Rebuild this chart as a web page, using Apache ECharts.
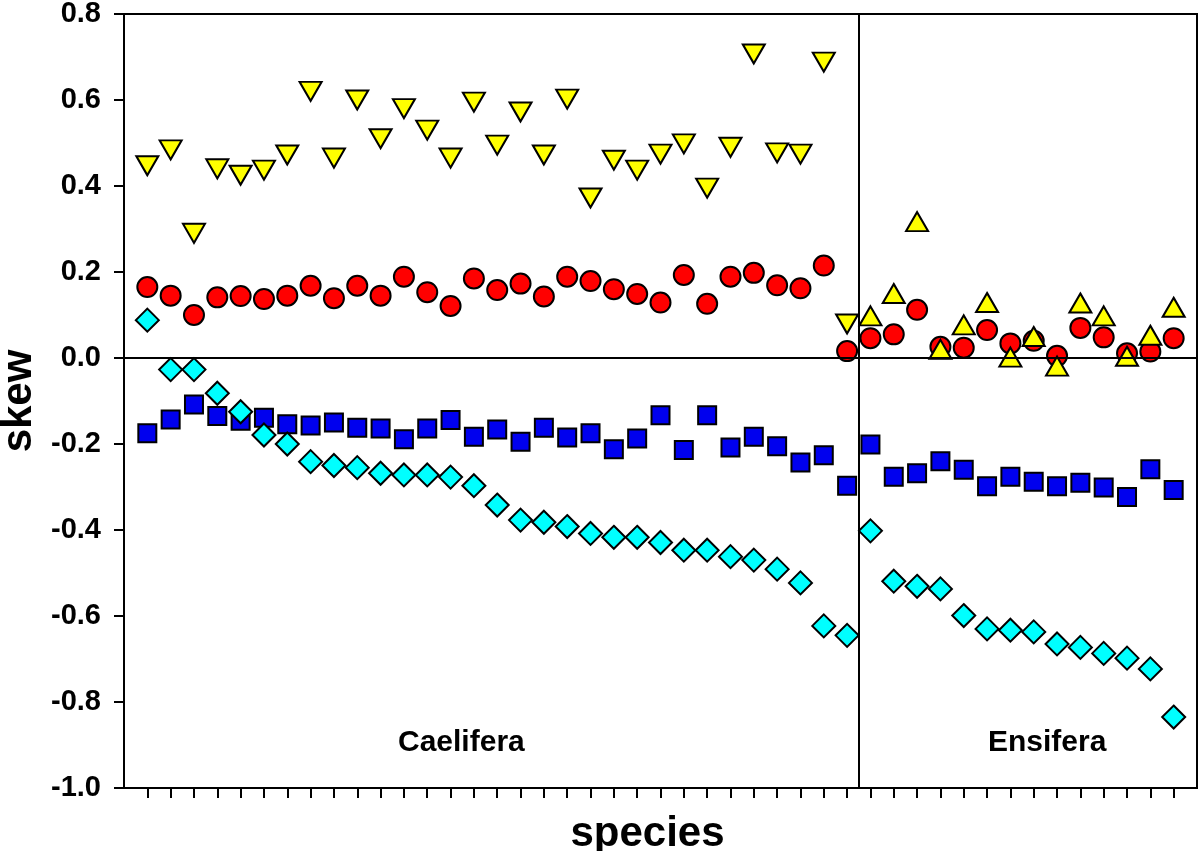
<!DOCTYPE html>
<html>
<head>
<meta charset="utf-8">
<script src="https://cdn.jsdelivr.net/npm/echarts@6/dist/echarts.min.js"></script>
<style>
  html, body { margin: 0; padding: 0; background: #fff; }
  #main { width: 1200px; height: 851px; }
</style>
</head>
<body>
<div id="main"></div>
<script>
// skew values per species, index 0..30 = Caelifera, 31..44 = Ensifera
const speciesIdx = [];
for (let i = 0; i < 45; i++) speciesIdx.push(i);

const downTri = [0.447,0.484,0.29,0.44,0.425,0.437,0.472,0.62,0.465,0.60,
  0.51,0.58,0.53,0.465,0.595,0.495,0.572,0.472,0.602,0.372,
  0.46,0.437,0.474,0.498,0.395,0.49,0.707,0.477,0.474,0.688,0.079];
const upTri = [0.098,0.15,0.317,0.02,0.077,0.129,0.002,0.05,-0.019,0.128,0.098,0.004,0.053,0.118];
const circles = [0.165,0.145,0.10,0.141,0.144,0.137,0.145,0.168,0.139,0.168,
  0.145,0.189,0.153,0.121,0.185,0.158,0.173,0.143,0.189,0.179,
  0.16,0.149,0.129,0.193,0.126,0.189,0.198,0.169,0.162,0.215,0.016,
  0.046,0.055,0.112,0.026,0.024,0.065,0.034,0.040,0.005,0.07,0.048,0.011,0.015,0.046];
const squares = [-0.175,-0.143,-0.108,-0.135,-0.146,-0.139,-0.154,-0.157,-0.150,-0.162,
  -0.164,-0.189,-0.164,-0.144,-0.183,-0.166,-0.195,-0.162,-0.185,-0.175,
  -0.212,-0.187,-0.133,-0.214,-0.133,-0.208,-0.183,-0.205,-0.243,-0.226,-0.297,
  -0.201,-0.276,-0.268,-0.240,-0.260,-0.298,-0.276,-0.288,-0.298,-0.290,-0.301,-0.323,-0.259,-0.307];
const diamonds = [0.088,-0.027,-0.027,-0.082,-0.125,-0.179,-0.200,-0.241,-0.250,-0.255,
  -0.268,-0.272,-0.272,-0.277,-0.297,-0.342,-0.377,-0.382,-0.392,-0.408,
  -0.417,-0.417,-0.429,-0.447,-0.447,-0.462,-0.470,-0.491,-0.523,-0.623,-0.645,
  -0.402,-0.519,-0.531,-0.537,-0.599,-0.630,-0.633,-0.637,-0.665,-0.673,-0.687,-0.698,-0.723,-0.835];

const nCael = 31;
const groupSplit = 30.5;
const groupNames = ['Caelifera', 'Ensifera'];

function pairs(vals, start) {
  return vals.map((v, i) => [speciesIdx[start + i], v]);
}

const font = '"Liberation Sans", Arial, Helvetica, sans-serif';
function mark(color) {
  return { color: color, opacity: 1, borderColor: '#000', borderWidth: 2 };
}

let chart = echarts.init(document.getElementById('main'));
let option = {
  animation: false,
  grid: {
    left: 124, right: 3, top: 14, bottom: 63,
    outerBoundsMode: 'none', containLabel: false,
    show: true, borderColor: '#000', borderWidth: 2
  },
  xAxis: {
    type: 'value',
    min: -1, max: 45,
    name: 'species',
    nameLocation: 'middle',
    nameGap: 25,
    nameTextStyle: { fontFamily: font, fontWeight: 'bold', fontSize: 42, color: '#000', padding: [0, 26, 0, 0] },
    axisLine: { show: true, onZero: false, lineStyle: { color: '#000', width: 2 } },
    axisTick: { show: true, inside: false, length: 10, customValues: speciesIdx, lineStyle: { color: '#000', width: 2 } },
    axisLabel: { show: false },
    splitLine: { show: false }
  },
  yAxis: {
    type: 'value',
    min: -1, max: 0.8, interval: 0.2,
    name: 'skew',
    nameLocation: 'middle',
    nameRotate: 90,
    nameGap: 82,
    nameTextStyle: { fontFamily: font, fontWeight: 'bold', fontSize: 42, color: '#000' },
    axisLine: { show: true, onZero: false, lineStyle: { color: '#000', width: 2 } },
    axisTick: { show: true, inside: false, length: 10, lineStyle: { color: '#000', width: 2 } },
    axisLabel: {
      fontFamily: font, fontWeight: 'bold', fontSize: 29, color: '#000', margin: 23,
      formatter: v => v.toFixed(1)
    },
    splitLine: { show: false }
  },
  graphic: [
    { type: 'text', left: 398, top: 728, style: { text: groupNames[0], font: 'bold 30px ' + font, fill: '#000' } },
    { type: 'text', left: 988, top: 728, style: { text: groupNames[1], font: 'bold 30px ' + font, fill: '#000' } }
  ],
  series: [
    {
      type: 'scatter', name: 'ref',
      data: [],
      markLine: {
        silent: true, symbol: 'none', label: { show: false },
        lineStyle: { color: '#000', width: 2, type: 'solid' },
        data: [{ yAxis: 0 }, { xAxis: groupSplit }]
      }
    },
    {
      type: 'scatter', name: 'circle', symbol: 'circle', symbolSize: 20,
      itemStyle: mark('#ff0000'),
      data: pairs(circles, 0)
    },
    {
      type: 'scatter', name: 'square', symbol: 'rect', symbolSize: 18,
      itemStyle: mark('#0000ee'),
      data: pairs(squares, 0)
    },
    {
      type: 'scatter', name: 'diamond', symbol: 'diamond', symbolSize: 23,
      itemStyle: mark('#00ffff'),
      data: pairs(diamonds, 0)
    },
    {
      type: 'scatter', name: 'down', symbol: 'triangle', symbolSize: [22, 19], symbolRotate: 180,
      itemStyle: mark('#ffff00'),
      data: pairs(downTri, 0)
    },
    {
      type: 'scatter', name: 'up', symbol: 'triangle', symbolSize: [22, 19],
      itemStyle: mark('#ffff00'),
      data: pairs(upTri, nCael)
    }
  ]
};
chart.setOption(option);
</script>
</body>
</html>
